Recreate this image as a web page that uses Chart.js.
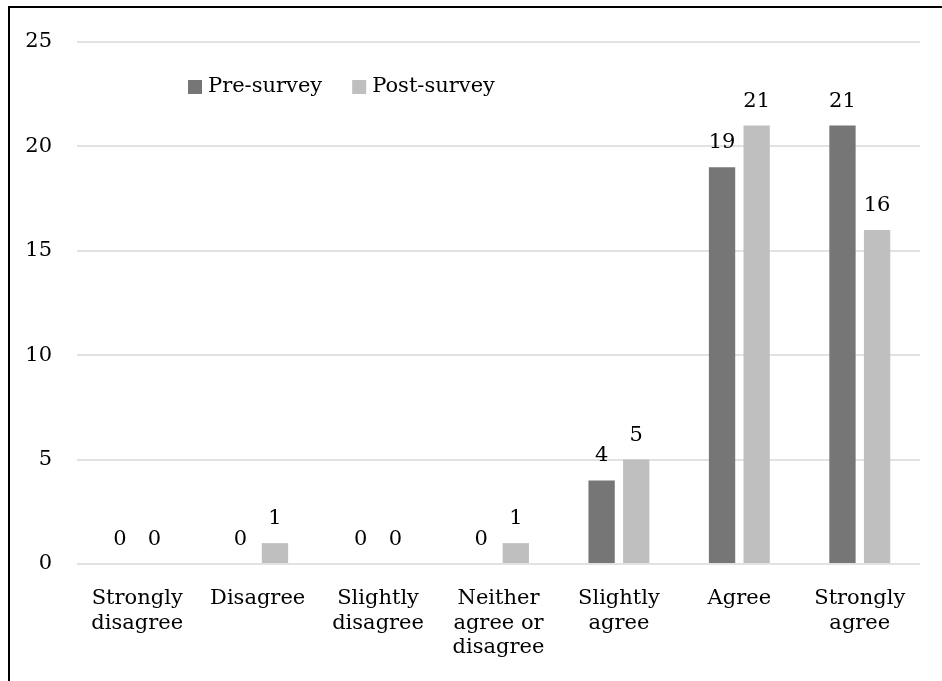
<!DOCTYPE html>
<html>
<head>
<meta charset="utf-8">
<style>
  html, body { margin: 0; padding: 0; background: #ffffff; }
  #wrap { position: relative; width: 942px; height: 681px; }
</style>
<script src="https://cdn.jsdelivr.net/npm/chart.js@4.4.1/dist/chart.umd.min.js"></script>
</head>
<body>
<div id="wrap"><canvas id="chart" width="942" height="681"></canvas></div>
<script>
// Response categories (multi-line labels as arrays)
const categories = [
  ["Strongly", "disagree"],
  ["Disagree"],
  ["Slightly", "disagree"],
  ["Neither", "agree or", "disagree"],
  ["Slightly", "agree"],
  ["Agree"],
  ["Strongly", "agree"]
];
const preSurvey = [0, 0, 0, 0, 4, 19, 21];
const postSurvey = [0, 1, 0, 1, 5, 21, 16];
const yTickValues = [0, 5, 10, 15, 20, 25];

const FONT = "'DejaVu Serif', 'Liberation Serif', serif";
const FONT_SIZE = 21;
const TEXT_COLOR = '#000000';

// Frame lines along the left and top edges
const framePlugin = {
  id: 'frame',
  beforeDraw(chart) {
    const ctx = chart.ctx;
    ctx.save();
    ctx.fillStyle = '#000000';
    ctx.fillRect(8, 6, chart.width - 8, 2);
    ctx.fillRect(8, 6, 2, chart.height - 6);
    ctx.restore();
  }
};

// Value labels above each bar
const valueLabelPlugin = {
  id: 'valueLabels',
  afterDatasetsDraw(chart) {
    const ctx = chart.ctx;
    ctx.save();
    ctx.font = FONT_SIZE + 'px ' + FONT;
    ctx.fillStyle = TEXT_COLOR;
    ctx.textAlign = 'center';
    ctx.textBaseline = 'alphabetic';
    chart.data.datasets.forEach((ds, di) => {
      const meta = chart.getDatasetMeta(di);
      meta.data.forEach((bar, i) => {
        ctx.fillText(String(ds.data[i]), bar.x, bar.y - 19);
      });
    });
    ctx.restore();
  }
};

// Legend drawn inside the plot area, upper left
const insideLegendPlugin = {
  id: 'insideLegend',
  afterDraw(chart) {
    const ctx = chart.ctx;
    const area = chart.chartArea;
    const box = 14;
    let x = area.left + 111;
    const cy = area.top + 45;
    ctx.save();
    ctx.font = FONT_SIZE + 'px ' + FONT;
    ctx.textBaseline = 'middle';
    ctx.textAlign = 'left';
    chart.data.datasets.forEach(ds => {
      ctx.fillStyle = ds.backgroundColor;
      ctx.fillRect(x, cy - box / 2, box, box);
      x += box + 6;
      ctx.fillStyle = TEXT_COLOR;
      ctx.fillText(ds.label, x, cy);
      x += ctx.measureText(ds.label).width + 30;
    });
    ctx.restore();
  }
};

new Chart(document.getElementById('chart'), {
  type: 'bar',
  data: {
    labels: categories,
    datasets: [
      {
        label: 'Pre-survey',
        data: preSurvey,
        backgroundColor: '#767676',
        categoryPercentage: 0.575,
        barPercentage: 0.76
      },
      {
        label: 'Post-survey',
        data: postSurvey,
        backgroundColor: '#bfbfbf',
        categoryPercentage: 0.575,
        barPercentage: 0.76
      }
    ]
  },
  options: {
    responsive: false,
    animation: false,
    devicePixelRatio: 1,
    layout: { padding: { left: 0, right: 22, top: 42, bottom: 0 } },
    plugins: {
      legend: { display: false },
      tooltip: { enabled: false }
    },
    scales: {
      x: {
        grid: { display: false, drawTicks: false },
        border: { display: false },
        ticks: {
          color: TEXT_COLOR,
          font: { family: FONT, size: FONT_SIZE, lineHeight: 1.18 },
          padding: 22,
          maxRotation: 0,
          autoSkip: false
        },
        afterFit(scale) { scale.height = 117; }
      },
      y: {
        min: 0,
        max: 25,
        afterBuildTicks(scale) {
          scale.ticks = yTickValues.map(v => ({ value: v }));
        },
        grid: { color: '#e2e2e2', lineWidth: 2, drawTicks: false },
        border: { display: false },
        ticks: {
          color: TEXT_COLOR,
          font: { family: FONT, size: FONT_SIZE },
          padding: 25
        },
        afterFit(scale) { scale.width = 77; }
      }
    }
  },
  plugins: [framePlugin, valueLabelPlugin, insideLegendPlugin]
});
</script>
</body>
</html>
